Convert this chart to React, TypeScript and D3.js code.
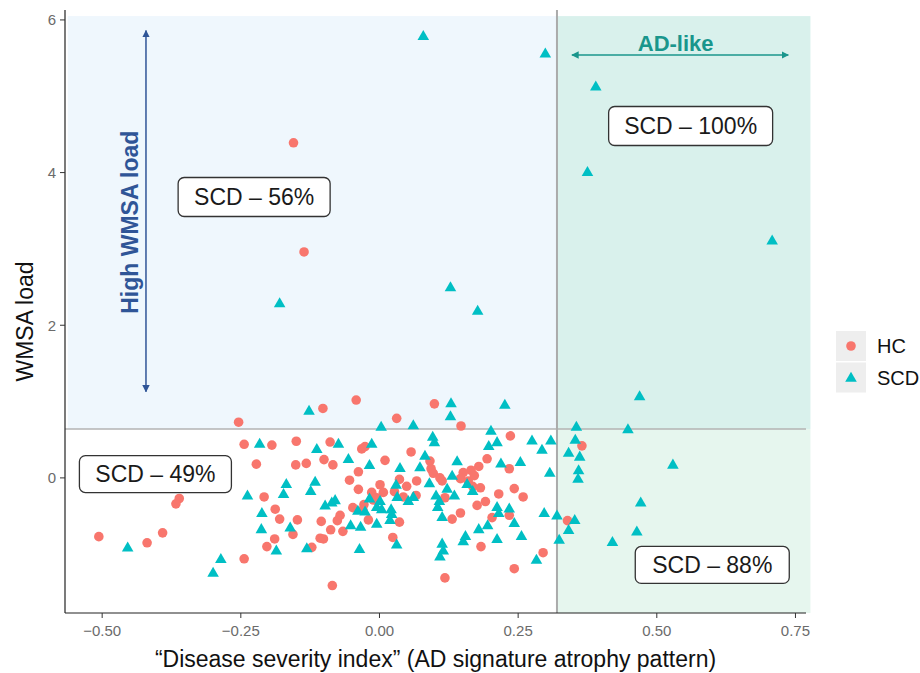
import * as d3 from 'd3';

// HC (healthy controls) — [severity index, WMSA load]
const HC: [number, number][] = [
  [-0.155, 4.39], [-0.136, 2.96], [-0.102, 0.91], [-0.042, 1.02], [0.099, 0.97],
  [0.031, 0.78], [-0.254, 0.73], [0.147, 0.68], [0.365, 0.42], [0.259, -0.25],
  [0.339, -0.56], [0.295, -0.98], [0.236, 0.55], [0.194, 0.25], [0.179, 0.15],
  [0.234, 0.12], [0.165, 0.1], [0.151, 0.07], [0.146, -0.01], [0.16, -0.04],
  [0.168, -0.11], [0.182, -0.13], [0.118, -0.26], [0.215, -0.21], [0.243, -0.14],
  [0.191, -0.31], [0.176, -0.36], [0.146, -0.46], [0.131, -0.54], [0.203, -0.52],
  [0.234, -0.49], [0.183, -0.9], [0.243, -1.19], [0.118, -1.31], [-0.089, 0.47],
  [-0.032, 0.38], [-0.026, 0.41], [0.057, 0.34], [-0.1, 0.24], [-0.084, 0.17],
  [0.01, 0.23], [0.091, 0.22], [0.093, 0.12], [0.097, 0.06], [0.109, 0.0],
  [0.113, -0.04], [-0.038, 0.08], [-0.054, -0.03], [0.036, -0.02], [0.001, -0.09],
  [0.049, -0.11], [0.067, -0.04], [-0.038, -0.15], [-0.014, -0.19], [0.007, -0.19],
  [0.027, -0.18], [0.043, -0.25], [0.066, -0.23], [-0.011, -0.29], [-0.005, -0.26],
  [-0.028, -0.35], [-0.03, -0.42], [-0.048, -0.39], [0.036, -0.58], [-0.071, -0.49],
  [-0.076, -0.56], [-0.105, -0.57], [-0.02, -0.55], [-0.088, -0.68], [-0.066, -0.7],
  [-0.107, -0.79], [-0.101, -0.8], [0.024, -0.78], [-0.122, -0.91], [-0.085, -1.41],
  [-0.244, 0.44], [-0.194, 0.43], [-0.15, 0.48], [-0.222, 0.18], [-0.151, 0.17],
  [-0.132, 0.19], [-0.208, -0.25], [-0.188, -0.41], [-0.18, -0.54], [-0.148, -0.55],
  [-0.156, -0.74], [-0.189, -0.8], [-0.203, -0.9], [-0.244, -1.06], [-0.395, 0.23],
  [-0.361, -0.27], [-0.367, -0.34], [-0.391, -0.72], [-0.506, -0.77], [-0.419, -0.85],
  [0.171, 0.03],
];

// SCD (subjective cognitive decline)
const SCD: [number, number][] = [
  [0.079, 5.78], [0.299, 5.55], [0.39, 5.12], [0.375, 4.0], [0.708, 3.1],
  [-0.18, 2.28], [0.128, 2.49], [0.177, 2.18], [-0.127, 0.87], [0.129, 0.97],
  [0.226, 0.95], [0.128, 0.8], [0.003, 0.66], [0.061, 0.68], [0.201, 0.61],
  [0.469, 1.06], [0.355, 0.66], [0.448, 0.63], [0.275, 0.48], [0.309, 0.48],
  [0.353, 0.49], [0.293, 0.36], [0.341, 0.32], [0.361, 0.27], [0.529, 0.165],
  [0.307, 0.06], [0.359, 0.09], [0.358, -0.02], [0.254, 0.2], [0.471, -0.33],
  [0.297, -0.47], [0.32, -0.5], [0.352, -0.56], [0.341, -0.69], [0.464, -0.71],
  [0.256, -0.77], [0.324, -0.82], [0.42, -0.85], [0.283, -1.08], [0.096, 0.53],
  [0.099, 0.46], [0.212, 0.46], [0.197, 0.41], [0.14, 0.21], [0.219, 0.18],
  [0.131, 0.02], [0.158, -0.09], [0.168, -0.18], [0.122, -0.15], [0.135, -0.24],
  [0.108, -0.31], [0.105, -0.39], [0.212, -0.39], [0.234, -0.41], [0.215, -0.47],
  [0.113, -0.52], [0.243, -0.6], [0.195, -0.63], [0.179, -0.68], [0.212, -0.81],
  [0.155, -0.77], [0.151, -0.84], [0.113, -0.87], [0.115, -0.96], [0.109, -1.04],
  [-0.074, 0.44], [-0.014, 0.44], [-0.113, 0.37], [0.082, 0.28], [-0.056, 0.24],
  [-0.018, 0.16], [0.037, 0.12], [0.073, 0.13], [-0.116, -0.06], [-0.124, -0.18],
  [0.03, -0.1], [0.09, -0.08], [0.032, -0.26], [0.052, -0.31], [0.061, -0.26],
  [0.102, -0.24], [-0.018, -0.28], [0.001, -0.31], [0.004, -0.42], [-0.005, -0.39],
  [-0.08, -0.3], [-0.098, -0.37], [-0.086, -0.33], [-0.039, -0.44], [-0.026, -0.45],
  [0.021, -0.42], [0.022, -0.48], [0.019, -0.56], [-0.052, -0.63], [-0.034, -0.65],
  [-0.005, -0.61], [0.031, -0.88], [-0.036, -0.94], [-0.216, 0.44], [-0.168, -0.09],
  [-0.173, -0.22], [-0.238, -0.24], [-0.212, -0.47], [-0.213, -0.68], [-0.161, -0.66],
  [-0.186, -0.96], [-0.131, -0.93], [-0.286, -1.07], [-0.3, -1.25], [-0.454, -0.92],
];

const X_TICKS = [-0.5, -0.25, 0, 0.25, 0.5, 0.75];
const Y_TICKS = [0, 2, 4, 6];
const X_LIM: [number, number] = [-0.567, 0.769];
const Y_LIM: [number, number] = [-1.77, 6.13];
const X_CUT = 0.32;   // severity threshold
const Y_CUT = 0.64;   // WMSA threshold

const LABELS = [
  { text: 'SCD – 56%', x: -0.226, y: 3.68, w: 152, h: 39 },
  { text: 'SCD – 49%', x: -0.404, y: 0.05, w: 152, h: 37 },
  { text: 'SCD – 100%', x: 0.561, y: 4.61, w: 164, h: 39 },
  { text: 'SCD – 88%', x: 0.6, y: -1.14, w: 154, h: 37 },
];

const LEGEND = [
  { key: 'HC', color: '#F8766D', shape: 'circle' },
  { key: 'SCD', color: '#00BFC4', shape: 'triangle' },
];

const FONT = '"Liberation Sans", Arial, sans-serif';
const W = 920, H = 673;
const PANEL = { left: 65, right: 806, top: 10, bottom: 613 };

export default function App() {
  const x = d3.scaleLinear().domain(X_LIM).range([PANEL.left, PANEL.right]);
  const y = d3.scaleLinear().domain(Y_LIM).range([PANEL.bottom, PANEL.top]);
  const tri = d3.symbol(d3.symbolTriangle, 58)()!;
  const fmt = d3.format('.2f');

  return (
    <svg width={W} height={H} style={{ position: 'absolute', left: 0, top: 0, background: '#fff' }}
      fontFamily={FONT}>
      <defs>
        <marker id="ab" viewBox="0 0 10 10" refX="9" refY="5" markerWidth="5" markerHeight="5"
          orient="auto-start-reverse">
          <path d="M0,0 L10,5 L0,10 z" fill="#2f5597" />
        </marker>
        <marker id="at" viewBox="0 0 10 10" refX="9" refY="5" markerWidth="5" markerHeight="5"
          orient="auto-start-reverse">
          <path d="M0,0 L10,5 L0,10 z" fill="#1a968c" />
        </marker>
      </defs>

      {/* zones */}
      <rect x={x(-0.562)} y={y(6.05)} width={x(X_CUT) - x(-0.562)} height={y(Y_CUT) - y(6.05)} fill="#eff7fd" />
      <rect x={x(X_CUT)} y={y(6.05)} width={x(0.777) - x(X_CUT)} height={y(Y_CUT) - y(6.05)} fill="#d9f1ec" />
      <rect x={x(X_CUT)} y={y(Y_CUT)} width={x(0.777) - x(X_CUT)} height={PANEL.bottom - y(Y_CUT)} fill="#e6f6ee" />

      <line x1={PANEL.left} x2={PANEL.right} y1={y(Y_CUT)} y2={y(Y_CUT)} stroke="#b3b3b3" strokeWidth={1.5} />
      <line x1={x(X_CUT)} x2={x(X_CUT)} y1={PANEL.top} y2={PANEL.bottom} stroke="#ababab" strokeWidth={2} />

      {/* arrows */}
      <line x1={x(-0.421)} x2={x(-0.421)} y1={y(5.86)} y2={y(1.13)} stroke="#2f5597" strokeWidth={1.5}
        markerStart="url(#ab)" markerEnd="url(#ab)" />
      <text transform={`translate(${x(-0.45)},${y(3.35)}) rotate(-90)`} textAnchor="middle"
        dominantBaseline="central" fontSize={23} fontWeight="bold" fill="#2f5597">High WMSA load</text>
      <line x1={x(0.347)} x2={x(0.737)} y1={y(5.54)} y2={y(5.54)} stroke="#1a968c" strokeWidth={1.5}
        markerStart="url(#at)" markerEnd="url(#at)" />
      <text x={x(0.534)} y={y(5.59)} textAnchor="middle" fontSize={22} fontWeight="bold" fill="#1a968c">AD-like</text>

      {/* points */}
      {HC.map(([a, b], i) => (
        <circle key={'h' + i} cx={x(a)} cy={y(b)} r={4.8} fill="#F8766D" />
      ))}
      {SCD.map(([a, b], i) => (
        <path key={'s' + i} d={tri} transform={`translate(${x(a)},${y(b)})`} fill="#00BFC4" />
      ))}

      {/* quadrant labels */}
      {LABELS.map(l => (
        <g key={l.text} transform={`translate(${x(l.x)},${y(l.y)})`}>
          <rect x={-l.w / 2} y={-l.h / 2} width={l.w} height={l.h} rx={6} fill="#fff" stroke="#333" strokeWidth={1.3} />
          <text textAnchor="middle" dominantBaseline="central" fontSize={23} fill="#1a1a1a">{l.text}</text>
        </g>
      ))}

      {/* axes */}
      <line x1={PANEL.left} x2={PANEL.left} y1={PANEL.top} y2={PANEL.bottom} stroke="#222" strokeWidth={1.2} />
      <line x1={PANEL.left} x2={PANEL.right} y1={PANEL.bottom} y2={PANEL.bottom} stroke="#222" strokeWidth={1.2} />
      {X_TICKS.map(t => (
        <g key={t}>
          <line x1={x(t)} x2={x(t)} y1={PANEL.bottom} y2={PANEL.bottom + 5} stroke="#333" />
          <text x={x(t)} y={PANEL.bottom + 23} textAnchor="middle" fontSize={15} fill="#6b6b6b">{fmt(t)}</text>
        </g>
      ))}
      {Y_TICKS.map(t => (
        <g key={t}>
          <line x1={PANEL.left - 5} x2={PANEL.left} y1={y(t)} y2={y(t)} stroke="#333" />
          <text x={PANEL.left - 9} y={y(t)} textAnchor="end" dominantBaseline="central" fontSize={15} fill="#6b6b6b">{t}</text>
        </g>
      ))}
      <text x={(PANEL.left + PANEL.right) / 2} y={667} textAnchor="middle" fontSize={23} fill="#111">
        “Disease severity index” (AD signature atrophy pattern)
      </text>
      <text transform={`translate(33,${(PANEL.top + PANEL.bottom) / 2 + 10}) rotate(-90)`} textAnchor="middle"
        fontSize={23} fill="#111">WMSA load</text>

      {/* legend */}
      {LEGEND.map((l, i) => (
        <g key={l.key} transform={`translate(836,${331 + i * 31.5})`}>
          <rect width={30} height={30} fill="#eeeeee" />
          {l.shape === 'circle'
            ? <circle cx={15} cy={15} r={4.8} fill={l.color} />
            : <path d={tri} transform="translate(15,16)" fill={l.color} />}
          <text x={41} y={15} dominantBaseline="central" fontSize={20} fill="#111">{l.key}</text>
        </g>
      ))}
    </svg>
  );
}
